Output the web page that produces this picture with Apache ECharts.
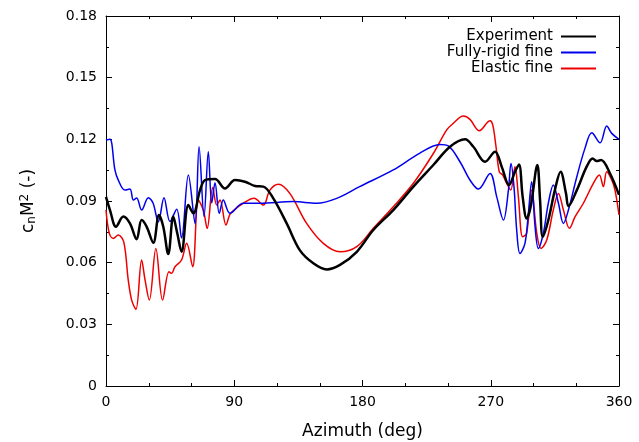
<!DOCTYPE html>
<html>
<head>
<meta charset="utf-8">
<script src="https://cdn.jsdelivr.net/npm/echarts@6/dist/echarts.min.js"></script>
<style>
  html, body { margin: 0; padding: 0; background: #fff; }
  #chart { width: 639px; height: 442px; }
</style>
</head>
<body>
<div id="chart"></div>
<script>
// Experiment
const expAz = [0, 2.8, 7, 12.2, 16.8, 21.5, 25, 28.5, 33.2, 37.2, 40.2, 43.7, 47.2, 50, 53, 57.8, 61.3, 66, 69.5, 76.5, 83.5, 90.5, 97.5, 104.6, 110.4, 117.4, 126.8, 136, 145.5, 154.9, 164.2, 176, 187.6, 201.6, 215.7, 229.7, 241.4, 252, 257.8, 266, 273, 277.7, 282.8, 287, 289.8, 292.4, 295.2, 298, 302.7, 304.6, 306.5, 310.4, 315, 319, 322.8, 324.5, 330.4, 337.3, 341.5, 344.4, 347.4, 353.7, 360]
const expVal = [0.092, 0.0856, 0.0775, 0.0824, 0.0791, 0.0714, 0.0807, 0.0775, 0.0697, 0.0832, 0.0775, 0.0642, 0.0824, 0.0743, 0.0653, 0.088, 0.084, 0.0953, 0.1002, 0.1007, 0.0961, 0.1002, 0.0994, 0.0973, 0.097, 0.0913, 0.0791, 0.0661, 0.0597, 0.0567, 0.0589, 0.0653, 0.0759, 0.0856, 0.097, 0.1075, 0.1164, 0.12, 0.1164, 0.1091, 0.114, 0.1067, 0.0978, 0.1042, 0.1078, 0.092, 0.0815, 0.0872, 0.1075, 0.0905, 0.0726, 0.0807, 0.0953, 0.1042, 0.0937, 0.0875, 0.0953, 0.1067, 0.1107, 0.1094, 0.1099, 0.1034, 0.093]

// Fully-rigid fine
const rigidAz = [0, 2.8, 6.3, 8.7, 13.3, 16.8, 19.2, 21.5, 25, 29.7, 33, 36.7, 40.7, 44.9, 49.6, 53, 57.8, 62.5, 65.3, 68.8, 71.8, 74.2, 76.5, 79.5, 82.3, 87, 96.4, 108, 131.4, 147.8, 161.9, 178, 201.6, 220, 234.4, 240.2, 248.4, 255.4, 261.3, 269.5, 274.2, 278.9, 282.4, 284.2, 286.3, 288.2, 290.5, 294, 296.4, 298.7, 301.1, 303.4, 306.9, 310.4, 313.9, 317.5, 321, 324.5, 330.4, 336.1, 340.9, 346.7, 351.4, 354.9, 360]
const rigidVal = [0.1197, 0.12, 0.105, 0.1, 0.0953, 0.0958, 0.0905, 0.0914, 0.0856, 0.0916, 0.089, 0.0799, 0.0916, 0.08, 0.086, 0.072, 0.1026, 0.079, 0.1164, 0.0824, 0.114, 0.089, 0.0989, 0.084, 0.0905, 0.084, 0.0889, 0.0889, 0.0897, 0.0889, 0.0913, 0.097, 0.1051, 0.1132, 0.1175, 0.1168, 0.1091, 0.1002, 0.0958, 0.1034, 0.092, 0.0807, 0.0953, 0.1083, 0.097, 0.0759, 0.0645, 0.0694, 0.084, 0.0994, 0.0775, 0.0669, 0.0743, 0.0889, 0.0978, 0.0889, 0.0791, 0.0856, 0.1018, 0.1156, 0.1232, 0.1183, 0.1265, 0.1229, 0.12]

// Elastic fine
const elasticAz = [0, 2.3, 5.1, 8.6, 12.5, 15.6, 18, 21, 25, 27.4, 30.4, 35, 39.7, 44.2, 46, 48.4, 53, 56.6, 60.8, 64.8, 68.3, 71, 74.9, 77.7, 80, 84.2, 87.5, 96.4, 103.9, 110.4, 115, 121, 129, 140.8, 152.5, 164.2, 176, 187.6, 201.6, 215.7, 229.7, 239, 243.7, 250.8, 255.4, 262, 269.5, 271.4, 273.7, 276, 278.4, 281.2, 284, 287, 289.4, 292.4, 295.2, 298.7, 302.3, 305.3, 309.3, 313.9, 317.5, 321, 325.2, 329.2, 335, 342, 346.2, 349, 351.4, 354.9, 357.2, 360]
const elasticVal = [0.0856, 0.0743, 0.0718, 0.0734, 0.07, 0.0516, 0.0418, 0.0373, 0.0613, 0.0516, 0.0418, 0.0669, 0.0418, 0.0556, 0.0548, 0.058, 0.0613, 0.0694, 0.058, 0.0905, 0.0856, 0.0767, 0.0966, 0.088, 0.0905, 0.0783, 0.084, 0.0889, 0.0913, 0.088, 0.0953, 0.0982, 0.0937, 0.0791, 0.0694, 0.0653, 0.0678, 0.0767, 0.0872, 0.0986, 0.1131, 0.1245, 0.1278, 0.1313, 0.1297, 0.1242, 0.129, 0.127, 0.1164, 0.1042, 0.1026, 0.0986, 0.0953, 0.1067, 0.092, 0.0726, 0.0743, 0.0953, 0.0743, 0.0669, 0.071, 0.0856, 0.0937, 0.0856, 0.0767, 0.0824, 0.0889, 0.0986, 0.1026, 0.097, 0.1042, 0.1002, 0.0953, 0.0832]

const FONT = 'DejaVu Sans'
const zip = (xs, ys) => xs.map((x, i) => [x, ys[i]])

// base axis look, ticks pointing inward on all four sides
function axisBase(extra) {
  return Object.assign({
    axisLine: { show: true, onZero: false, lineStyle: { color: '#000', width: 1 } },
    axisTick: { show: true, inside: true, length: 6, lineStyle: { color: '#000' } },
    splitLine: { show: false },
    axisLabel: { color: '#000', fontFamily: FONT, fontSize: 14 }
  }, extra)
}

let myChart = echarts.init(document.getElementById('chart'))
myChart.setOption({
  animation: false,
  grid: { left: 106, right: 20, top: 16, bottom: 56, outerBoundsMode: 'none', containLabel: false },
  legend: {
    orient: 'vertical',
    right: 38,
    top: 24,
    align: 'right',
    itemWidth: 35,
    itemHeight: 2,
    itemGap: 1,
    textStyle: { fontFamily: FONT, fontSize: 15, color: '#000', lineHeight: 14, padding: [0, 3, 0, 0] },
    data: [
      { name: 'Experiment', icon: 'rect' },
      { name: 'Fully-rigid fine', icon: 'rect' },
      { name: 'Elastic fine', icon: 'rect' }
    ]
  },
  xAxis: [
    axisBase({
      type: 'value', min: 0, max: 360, interval: 90,
      minorTick: { show: true, splitNumber: 3, length: 3, lineStyle: { color: '#000' } },
      name: 'Azimuth (deg)', nameLocation: 'middle', nameGap: 37,
      nameTextStyle: { fontFamily: FONT, fontSize: 17, color: '#000' },
      axisLabel: { color: '#000', fontFamily: FONT, fontSize: 14, margin: 9 }
    }),
    axisBase({
      type: 'value', min: 0, max: 360, interval: 90, position: 'top',
      minorTick: { show: true, splitNumber: 3, length: 3, lineStyle: { color: '#000' } },
      axisLabel: { show: false }
    })
  ],
  yAxis: [
    axisBase({
      type: 'value', min: 0, max: 0.18, interval: 0.03,
      minorTick: { show: true, splitNumber: 2, length: 3, lineStyle: { color: '#000' } },
      name: 'c{sub|n}M{sup|2} (-)', nameLocation: 'middle', nameGap: 68,
      nameTextStyle: {
        fontFamily: FONT, fontSize: 17, color: '#000',
        rich: {
          sub: { fontFamily: FONT, fontSize: 12, color: '#000', verticalAlign: 'bottom', padding: [7, 0, 0, 0] },
          sup: { fontFamily: FONT, fontSize: 12, color: '#000', verticalAlign: 'top', padding: [0, 0, 7, 0] }
        }
      },
      axisLabel: {
        color: '#000', fontFamily: FONT, fontSize: 14, margin: 9,
        formatter: v => (v === 0 ? '0' : v.toFixed(2))
      }
    }),
    axisBase({
      type: 'value', min: 0, max: 0.18, interval: 0.03, position: 'right',
      minorTick: { show: true, splitNumber: 2, length: 3, lineStyle: { color: '#000' } },
      axisLabel: { show: false }
    })
  ],
  series: [
    {
      name: 'Experiment', type: 'line', smooth: 0.35, symbol: 'none',
      color: '#000', lineStyle: { color: '#000', width: 2.5 },
      data: zip(expAz, expVal), z: 4
    },
    {
      name: 'Fully-rigid fine', type: 'line', smooth: 0.35, symbol: 'none',
      color: '#0000ee', lineStyle: { color: '#0000ee', width: 1.5 },
      data: zip(rigidAz, rigidVal), z: 3
    },
    {
      name: 'Elastic fine', type: 'line', smooth: 0.35, symbol: 'none',
      color: '#ee0000', lineStyle: { color: '#ee0000', width: 1.5 },
      data: zip(elasticAz, elasticVal), z: 2
    }
  ]
})
</script>
</body>
</html>
